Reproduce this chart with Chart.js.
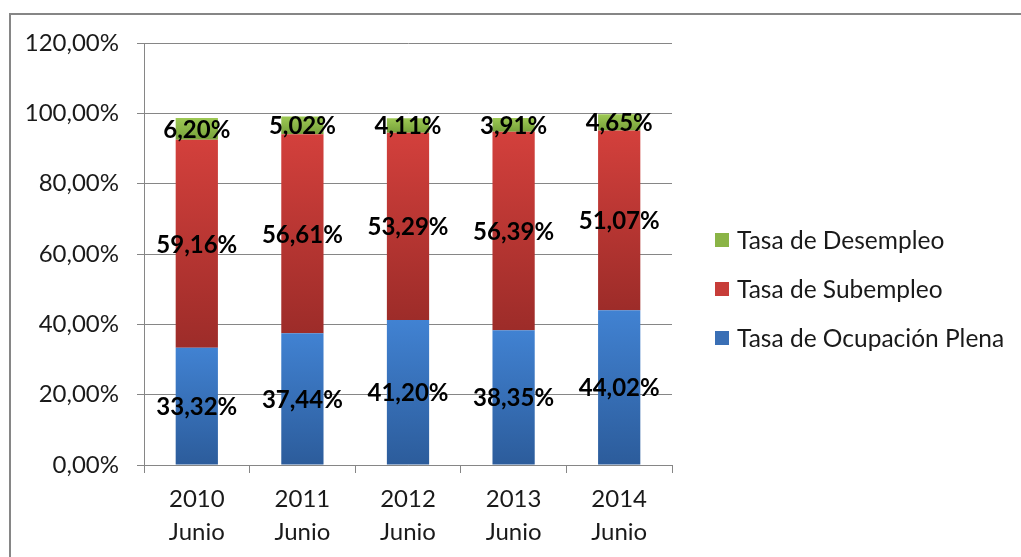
<!DOCTYPE html>
<html>
<head>
<meta charset="utf-8">
<script src="https://cdn.jsdelivr.net/npm/chart.js@4"></script>
<style>
  html, body { margin: 0; padding: 0; background: #fff; }
  #wrap { width: 1021px; height: 557px; position: relative; }
</style>
</head>
<body>
<div id="wrap"><canvas id="chart" width="1021" height="557"></canvas></div>
<script>
// datos
const categories = [['2010', 'Junio'], ['2011', 'Junio'], ['2012', 'Junio'], ['2013', 'Junio'], ['2014', 'Junio']];
const ocupacionPlena = [33.32, 37.44, 41.20, 38.35, 44.02];
const subempleo = [59.16, 56.61, 53.29, 56.39, 51.07];
const desempleo = [6.20, 5.02, 4.11, 3.91, 4.65];
const seriesNames = ['Tasa de Ocupación Plena', 'Tasa de Subempleo', 'Tasa de Desempleo'];
const yMax = 120;
const yStep = 20;

const FONT = 'Lato, "Liberation Sans", sans-serif';

function fmt(v) {
    return v.toFixed(2).replace('.', ',') + '%';
}

// gradient from top of each segment to its base
function segmentGradient(top, bottom) {
    return (c) => {
        const chart = c.chart;
        const y = chart.scales.y;
        if (!chart.chartArea || !y || c.dataIndex === undefined) return top;
        let base = 0;
        for (let d = 0; d < c.datasetIndex; d++) {
            base += chart.data.datasets[d].data[c.dataIndex];
        }
        const v = chart.data.datasets[c.datasetIndex].data[c.dataIndex];
        const y0 = y.getPixelForValue(base + v);
        const y1 = y.getPixelForValue(base);
        const g = chart.ctx.createLinearGradient(0, y0, 0, y1);
        g.addColorStop(0, top);
        g.addColorStop(1, bottom);
        return g;
    };
}

const legendColors = ['#3a6fb5', '#c73d39', '#8ab446'];

const centerLabels = {
    id: 'centerLabels',
    afterDatasetsDraw(chart) {
        const ctx = chart.ctx;
        ctx.save();
        ctx.font = 'bold 24px ' + FONT;
        ctx.fillStyle = '#000';
        ctx.textAlign = 'center';
        ctx.textBaseline = 'middle';
        chart.data.datasets.forEach((ds, i) => {
            chart.getDatasetMeta(i).data.forEach((bar, j) => {
                const cy = (bar.y + bar.base) / 2;
                ctx.fillText(fmt(ds.data[j]), bar.x, cy + 1);
            });
        });
        ctx.restore();
    }
};

const frameAndLegend = {
    id: 'frameAndLegend',
    afterDraw(chart) {
        const ctx = chart.ctx;
        ctx.save();
        ctx.strokeStyle = '#868686';
        ctx.lineWidth = 2;
        ctx.strokeRect(10, 14, 1100, 600);
        // legend, top item = last series
        ctx.font = '24.5px ' + FONT;
        ctx.textBaseline = 'middle';
        ctx.textAlign = 'left';
        const n = chart.data.datasets.length;
        for (let k = 0; k < n; k++) {
            const i = n - 1 - k;
            const cy = 240 + k * 49;
            ctx.fillStyle = legendColors[i];
            ctx.fillRect(715, cy - 7, 14, 14);
            ctx.fillStyle = '#1a1a1a';
            ctx.fillText(chart.data.datasets[i].label, 737, cy + 1);
        }
        ctx.restore();
    }
};

new Chart(document.getElementById('chart'), {
    type: 'bar',
    data: {
        labels: categories,
        datasets: [
            {
                label: seriesNames[0],
                data: ocupacionPlena,
                backgroundColor: segmentGradient('#4182d2', '#2c5c9b')
            },
            {
                label: seriesNames[1],
                data: subempleo,
                backgroundColor: segmentGradient('#d3403c', '#9d2c29')
            },
            {
                label: seriesNames[2],
                data: desempleo,
                backgroundColor: segmentGradient('#9ec954', '#76a13a')
            }
        ]
    },
    options: {
        responsive: false,
        animation: false,
        layout: { padding: { top: 43, right: 349, bottom: 0, left: 0 } },
        datasets: {
            bar: { categoryPercentage: 1, barPercentage: 0.4 }
        },
        plugins: {
            legend: { display: false },
            tooltip: { enabled: false }
        },
        scales: {
            x: {
                stacked: true,
                afterFit: (s) => { s.height = 92; },
                grid: {
                    offset: true,
                    drawOnChartArea: false,
                    tickLength: 8,
                    color: '#868686'
                },
                border: { color: '#868686' },
                ticks: {
                    color: '#1a1a1a',
                    padding: 9,
                    font: { family: FONT, size: 24, lineHeight: 1.4 }
                }
            },
            y: {
                stacked: true,
                min: 0,
                max: yMax,
                afterFit: (s) => { s.width = 144; },
                grid: { color: '#868686', tickLength: 7 },
                border: { color: '#868686' },
                ticks: {
                    stepSize: yStep,
                    color: '#1a1a1a',
                    padding: 18,
                    font: { family: FONT, size: 24 },
                    callback: (v) => fmt(v)
                }
            }
        }
    },
    plugins: [centerLabels, frameAndLegend]
});
</script>
</body>
</html>
